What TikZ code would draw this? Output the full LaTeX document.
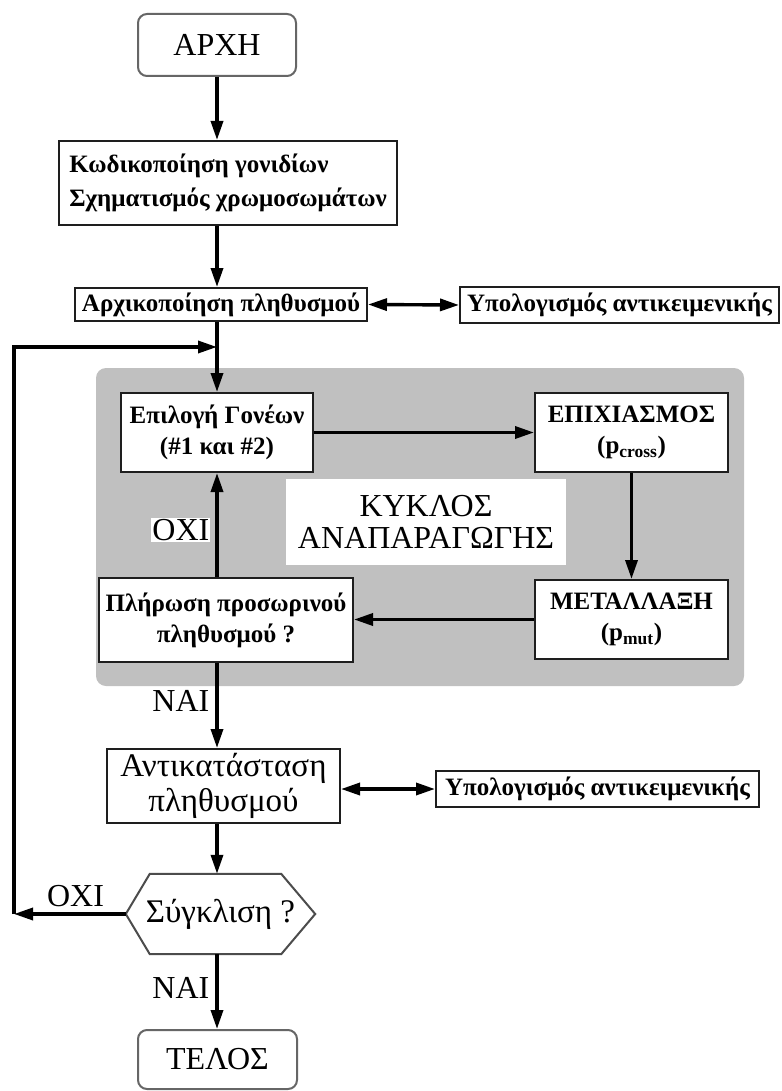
\documentclass[tikz,border=0pt]{standalone}
\usepackage{fontspec}
\setmainfont{Liberation Serif}
\usetikzlibrary{arrows.meta,calc}
\definecolor{bggray}{RGB}{192,192,192}
\definecolor{edge}{RGB}{30,30,30}
\newcommand{\fsz}[1]{\fontsize{#1}{#1}\selectfont}
\begin{document}
\begin{tikzpicture}[x=1pt,y=-1pt,
  boxline/.style={draw=edge,line width=2pt},
  rbox/.style={boxline,draw=black!60,fill=white,rounded corners=9pt,inner sep=0pt,font=\fsz{32}},
  bbox/.style={boxline,fill=white,inner sep=0pt,align=center,font=\bfseries\fsz{25}},
  nbox/.style={boxline,fill=white,inner sep=0pt,align=center,font=\fsz{33}},
  lbl/.style={inner sep=1pt,font=\fsz{32}},
  arr/.style={line width=3.4pt,-{Triangle[length=19pt,width=12pt]}},
  darr/.style={line width=3.4pt,{Triangle[length=19pt,width=12pt]}-{Triangle[length=19pt,width=12pt]}}]
\useasboundingbox (0,0) rectangle (781,1091);
\fill[white] (0,0) rectangle (781,1091);
% background of the cycle
\node[fill=bggray,rounded corners=10pt,minimum width=648pt,minimum height=318pt,inner sep=0pt] (bg) at (420,527) {};
\coordinate (axis) at (217,0);
% nodes
\node[rbox,minimum width=158pt,minimum height=62pt] (start) at (217,45) {ΑΡΧΗ};
\node[bbox,minimum width=338pt,minimum height=84pt,align=left] (code) at (228,183)
  {Κωδικοποίηση γονιδίων\\[9pt]Σχηματισμός χρωμοσωμάτων};
\node[bbox,minimum width=292pt,minimum height=33pt] (init) at (221,304.5) {Αρχικοποίηση πληθυσμού};
\node[bbox,minimum width=319pt,minimum height=36pt] (obja) at (619.5,305) {Υπολογισμός αντικειμενικής};
\node[bbox,minimum width=192pt,minimum height=79pt] (select) at (217,432.5) {Επιλογή Γονέων\\[6pt](\#1 και \#2)};
\node[bbox,minimum width=193pt,minimum height=79pt] (cross) at (631.5,432.5) {ΕΠΙΧΙΑΣΜΟΣ\\[6pt](p\textsubscript{cross})};
\node[bbox,minimum width=193pt,minimum height=79pt] (mut) at (631.5,619.5) {ΜΕΤΑΛΛΑΞΗ\\[6pt](p\textsubscript{mut})};
\node[bbox,minimum width=254pt,minimum height=84pt] (fillq) at (226,620) {Πλήρωση προσωρινού\\[6pt]πληθυσμού ?};
\node[fill=white,minimum width=280pt,minimum height=86pt,inner sep=0pt,align=center,font=\fsz{32}] (cyc) at (426,522)
  {ΚΥΚΛΟΣ\\ΑΝΑΠΑΡΑΓΩΓΗΣ};
\node[nbox,minimum width=233pt,minimum height=74pt] (repl) at (223.5,786) {Αντικατάσταση\\[2pt]πληθυσμού};
\node[bbox,minimum width=323pt,minimum height=36pt] (objb) at (597.5,789) {Υπολογισμός αντικειμενικής};
\node[minimum width=189pt,minimum height=80pt,inner sep=0pt] (hex) at (220.5,914) {};
\draw[boxline,draw=black!70,fill=white] (hex.west) -- ($(hex.north west)+(24,0)$) -- ($(hex.north east)+(-34,0)$) -- (hex.east)
  -- ($(hex.south east)+(-34,0)$) -- ($(hex.south west)+(24,0)$) -- cycle;
\node[font=\fsz{33},inner sep=0pt] (hext) at (hex.center) {Σύγκλιση ?};
\node[rbox,minimum width=159pt,minimum height=59pt] (stop) at (217.5,1059.5) {ΤΕΛΟΣ};
% connectors
\draw[arr] (start.south) -- (axis |- code.north);
\draw[arr] (axis |- code.south) -- (axis |- init.north);
\draw[darr] (init.east) -- (obja.west);
\draw[arr] (axis |- init.south) -- (axis |- select.north);
\draw[arr] (select.east) -- (cross.west);
\draw[arr] (cross.south) -- (mut.north);
\draw[arr] (mut.west) -- (fillq.east |- mut.west);
\draw[arr] (axis |- fillq.north) -- node[lbl,fill=white,left=5pt,pos=0.45] {ΟΧΙ} (axis |- select.south);
\draw[arr] (axis |- fillq.south) -- node[lbl,left=5pt,pos=0.45] {ΝΑΙ} (axis |- repl.north);
\draw[darr] (repl.east |- objb.west) -- (objb.west);
\draw[arr] (axis |- repl.south) -- (axis |- hex.north);
\draw[arr] (axis |- hex.south) -- node[lbl,left=5pt,pos=0.45] {ΝΑΙ} (axis |- stop.north);
\coordinate (lpb) at (14,914);
\coordinate (lpt) at (14,347);
\coordinate (join) at (217,347);
\draw[arr] (hex.west) -- node[lbl,above=4pt,pos=0.45] {ΟΧΙ} (lpb);
\draw[arr] (lpb) -- (lpt) -- (join);
\end{tikzpicture}
\end{document}
